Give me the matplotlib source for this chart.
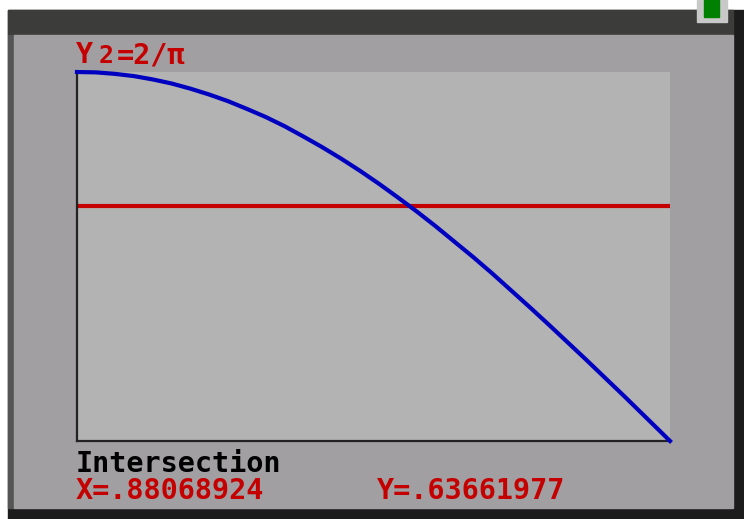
import numpy as np
import matplotlib.pyplot as plt
from matplotlib.patches import Rectangle

x_vals = [0.0, 0.05, 0.1, 0.15, 0.2, 0.25, 0.3, 0.35, 0.4, 0.45, 0.5, 0.55, 0.6, 0.65,
          0.7, 0.75, 0.8, 0.85, 0.9, 0.95, 1.0, 1.05, 1.1, 1.15, 1.2, 1.25, 1.3, 1.35,
          1.4, 1.45, 1.5, 1.55, 1.5708]
y_vals = [1.0, 0.999, 0.995, 0.989, 0.98, 0.969, 0.955, 0.939, 0.921, 0.900, 0.878, 0.853,
          0.825, 0.796, 0.765, 0.732, 0.697, 0.660, 0.622, 0.582, 0.540, 0.498, 0.454,
          0.408, 0.362, 0.315, 0.267, 0.219, 0.170, 0.121, 0.071, 0.021, 0.0]
# Y2 = 2/pi (linea roja)
y2_val = 0.63661977
x_range = [0.0, 1.5708]

rojo = '#c40000'
azul = '#0000c0'

fig = plt.figure(figsize=(7.44, 5.19), dpi=100)
fig.patch.set_facecolor('white')

# marco de la calculadora (coordenadas en pixeles)
bg = fig.add_axes([0, 0, 1, 1])
bg.set_xlim(0, 744); bg.set_ylim(519, 0); bg.axis('off')
bg.add_patch(Rectangle((8, 10), 736, 509, color='#1c1c1c'))
bg.add_patch(Rectangle((8, 10), 725, 25, color='#3c3d3a'))
bg.add_patch(Rectangle((8, 35), 6, 473, color='#555555'))
bg.add_patch(Rectangle((14, 35), 719, 473, color='#a19fa2'))
bg.add_patch(Rectangle((697, 0), 30, 22, color='#c8c8c8'))
bg.add_patch(Rectangle((704, 0), 15, 17, color='#008000'))

fuente = dict(family='DejaVu Sans Mono', weight='bold', fontsize=20.5)
bg.text(76, 63, 'Y', color=rojo, **fuente)
bg.text(99, 63, '2', color=rojo, family='DejaVu Sans Mono', weight='bold', fontsize=18)
bg.text(117, 63, '=2/π', color=rojo, **fuente)
bg.text(76, 472, 'Intersection', color='black', **fuente)
bg.text(76, 499, 'X=.88068924', color=rojo, **fuente)
bg.text(377, 499, 'Y=.63661977', color=rojo, **fuente)

# area de la grafica
ax = fig.add_axes([77 / 744, (519 - 441) / 519, (670 - 77) / 744, (441 - 72) / 519])
ax.set_facecolor('#b3b3b3')
ax.plot(x_vals, y_vals, color=azul, lw=3, clip_on=False, zorder=3)
ax.plot(x_range, [y2_val, y2_val], color=rojo, lw=3, zorder=2)
ax.set_xlim(x_range)
ax.set_ylim(0, 1.0)
ax.set_xticks([]); ax.set_yticks([])
for s in ['top', 'right']:
    ax.spines[s].set_visible(False)
for s in ['left', 'bottom']:
    ax.spines[s].set_color('#222222')
    ax.spines[s].set_linewidth(1.6)

fig.savefig('out.png', dpi=100)
